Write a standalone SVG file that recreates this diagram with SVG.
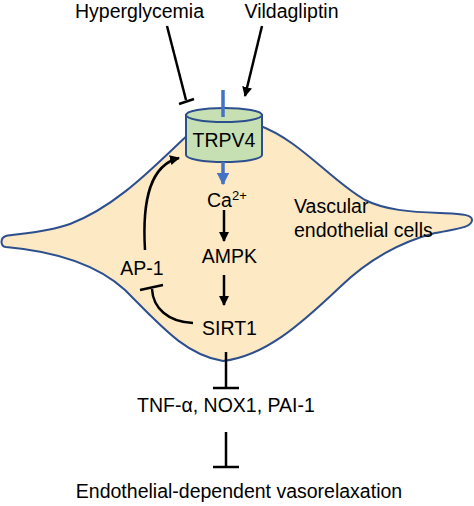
<svg xmlns="http://www.w3.org/2000/svg" width="474" height="506" viewBox="0 0 474 506">
<defs>
<style>
text{font-family:"Liberation Sans",Arial,sans-serif;font-size:19.5px;fill:#000}
.ln{fill:none;stroke:#000;stroke-width:2.5}
.bl{fill:none;stroke:#4472c4;stroke-width:3.5}
</style>
<marker id="ah" viewBox="0 0 10 10" refX="9" refY="5" markerWidth="4" markerHeight="4" orient="auto" markerUnits="strokeWidth"><path d="M0,0L10,5L0,10Z" fill="#000"/></marker>
<marker id="bh" viewBox="0 0 10 10" refX="9" refY="5" markerWidth="3.5" markerHeight="3.5" orient="auto" markerUnits="strokeWidth"><path d="M0,0L10,5L0,10Z" fill="#4472c4"/></marker>
</defs>
<g id="cell">
<path d="M190,133 C160,160 120,205 70,224 C45,233 15,234 6,236 C0,238 0,246 6,247 C40,250 90,258 125,290 C160,325 185,355 223,361 C265,356 300,325 340,287 C370,258 400,242 435,233 C455,229 472,228 472,220 C472,214 460,214 440,213 C410,212 385,210 365,200 C330,180 300,140 258,125 Z" fill="#fde9c3" stroke="#2d4f8e" stroke-width="2"/>
<text x="294" y="213">Vascular</text>
<text x="294" y="237">endothelial cells</text>
</g>
<g id="trpv4">
<path d="M186,115 L186,155 A38,7 0 0 0 262,155 L262,115 Z" fill="#c6e0b4" stroke="#2d4f8e" stroke-width="2"/>
<ellipse cx="224" cy="115" rx="38" ry="7" fill="#c6e0b4" stroke="#2d4f8e" stroke-width="2"/>
<text x="224" y="147" text-anchor="middle">TRPV4</text>
</g>
<g id="hyperglycemia"><text x="139.5" y="18" text-anchor="middle">Hyperglycemia</text></g>
<g id="vildagliptin"><text x="291.5" y="18" text-anchor="middle">Vildagliptin</text></g>
<g id="ca"><text x="207" y="207">Ca<tspan font-size="13" dy="-7">2+</tspan></text></g>
<g id="ampk"><text x="229.5" y="263" text-anchor="middle">AMPK</text></g>
<g id="sirt1"><text x="229.5" y="335" text-anchor="middle">SIRT1</text></g>
<g id="ap1"><text x="142" y="275" text-anchor="middle">AP-1</text></g>
<g id="tnf"><text x="226" y="412" text-anchor="middle">TNF-α, NOX1, PAI-1</text></g>
<g id="vasorelaxation"><text x="239" y="498" text-anchor="middle">Endothelial-dependent vasorelaxation</text></g>
<g id="connectors">
<path class="ln" d="M167,26 L186,100"/>
<path class="ln" d="M179,104 L194,99"/>
<path class="ln" d="M262,26 L245,96" marker-end="url(#ah)"/>
<path class="bl" d="M223,90 L223,117"/>
<path class="bl" d="M223,162 L223,184" marker-end="url(#bh)"/>
<path class="ln" d="M224,210 L224,241" marker-end="url(#ah)"/>
<path class="ln" d="M224,275 L224,305" marker-end="url(#ah)"/>
<path class="ln" d="M145,250 C142,200 150,165 179,158" marker-end="url(#ah)"/>
<path class="ln" d="M193,323 C168,322 153,308 152,289"/>
<path class="ln" d="M140,290 L163,285"/>
<path class="ln" d="M226,352 L226,388"/>
<path class="ln" d="M213,388 L239,388"/>
<path class="ln" d="M226,432 L226,467"/>
<path class="ln" d="M213,467 L239,467"/>
</g>
</svg>
